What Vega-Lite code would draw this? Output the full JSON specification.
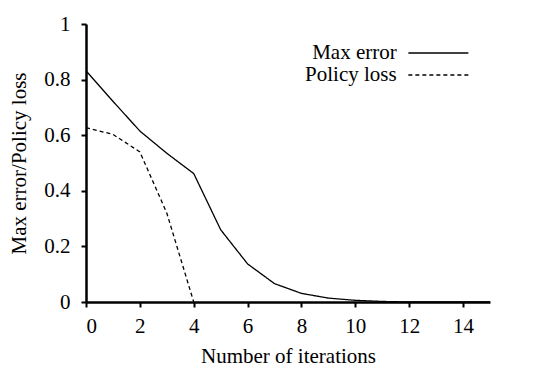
{
  "$schema": "https://vega.github.io/schema/vega-lite/v6.json",
  "width": 404,
  "height": 278,
  "autosize": {"type": "none"},
  "padding": {"left": 86, "top": 24, "right": 62, "bottom": 64},
  "background": "white",
  "config": {
    "font": "Liberation Serif",
    "view": {"stroke": null},
    "text": {"font": "Liberation Serif"},
    "legend": {"labelFont": "Liberation Serif", "titleFont": "Liberation Serif"},
    "axis": {
      "domainColor": "black",
      "domainWidth": 2.5,
      "tickColor": "black",
      "tickWidth": 2,
      "tickSize": 5,
      "labelFont": "Liberation Serif",
      "labelFontSize": 21,
      "labelColor": "black",
      "titleFont": "Liberation Serif",
      "titleFontSize": 21,
      "titleFontWeight": "normal",
      "titleColor": "black",
      "grid": false
    }
  },
  "data": {
    "values": [
      {"it": 0, "value": 0.832, "series": "Max error"},
      {"it": 1, "value": 0.722, "series": "Max error"},
      {"it": 2, "value": 0.615, "series": "Max error"},
      {"it": 3, "value": 0.535, "series": "Max error"},
      {"it": 4, "value": 0.462, "series": "Max error"},
      {"it": 5, "value": 0.26, "series": "Max error"},
      {"it": 6, "value": 0.137, "series": "Max error"},
      {"it": 7, "value": 0.066, "series": "Max error"},
      {"it": 8, "value": 0.031, "series": "Max error"},
      {"it": 9, "value": 0.014, "series": "Max error"},
      {"it": 10, "value": 0.006, "series": "Max error"},
      {"it": 11, "value": 0.002, "series": "Max error"},
      {"it": 12, "value": 0.0, "series": "Max error"},
      {"it": 13, "value": 0.0, "series": "Max error"},
      {"it": 14, "value": 0.0, "series": "Max error"},
      {"it": 15, "value": 0.0, "series": "Max error"},
      {"it": 0, "value": 0.627, "series": "Policy loss"},
      {"it": 1, "value": 0.603, "series": "Policy loss"},
      {"it": 2, "value": 0.54, "series": "Policy loss"},
      {"it": 3, "value": 0.32, "series": "Policy loss"},
      {"it": 4, "value": 0.0, "series": "Policy loss"}
    ]
  },
  "mark": {"type": "line", "color": "black", "strokeWidth": 1.3},
  "encoding": {
    "x": {
      "field": "it",
      "type": "quantitative",
      "scale": {"domain": [0, 15], "nice": false},
      "axis": {"values": [0, 2, 4, 6, 8, 10, 12, 14], "title": "Number of iterations", "labelPadding": 8, "titlePadding": 9}
    },
    "y": {
      "field": "value",
      "type": "quantitative",
      "scale": {"domain": [0, 1], "nice": false},
      "axis": {"values": [0, 0.2, 0.4, 0.6, 0.8, 1], "format": ".1~f", "title": "Max error/Policy loss", "labelPadding": 11, "titlePadding": 14}
    },
    "strokeDash": {
      "field": "series",
      "type": "nominal",
      "scale": {"domain": ["Max error", "Policy loss"], "range": [[1, 0], [4, 3]]},
      "legend": {
        "orient": "none",
        "legendX": 340.85,
        "legendY": 17.5,
        "title": null,
        "symbolType": "M-2.857,0H2.857",
        "symbolSize": 441,
        "symbolStrokeWidth": 1.3,
        "symbolStrokeColor": "black",
        "symbolFillColor": "transparent",
        "labelAlign": "right",
        "labelOffset": -53.15,
        "labelFontSize": 21,
        "labelColor": "black",
        "rowPadding": 0,
        "padding": 0
      }
    }
  }
}
